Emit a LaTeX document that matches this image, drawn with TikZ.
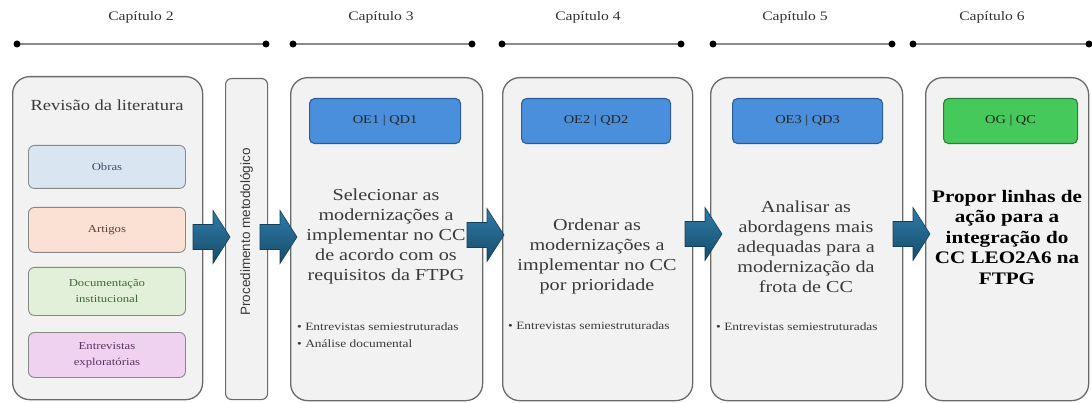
\documentclass[tikz,border=0pt]{standalone}
\usepackage{fontspec}
\setmainfont[FakeStretch=1.2]{Liberation Serif}
\newfontfamily\procfont{Liberation Sans}
\usetikzlibrary{calc}
\definecolor{boxfill}{HTML}{F2F2F2}
\definecolor{boxdraw}{HTML}{6A6A6A}
\definecolor{tline}{HTML}{8A8A8A}
\definecolor{maintxt}{HTML}{3A3A3A}
\definecolor{obrasfill}{HTML}{DAE5F2}
\definecolor{obrastxt}{HTML}{3E5068}
\definecolor{artfill}{HTML}{FBE1D4}
\definecolor{arttxt}{HTML}{5A4034}
\definecolor{docfill}{HTML}{E2F0D9}
\definecolor{doctxt}{HTML}{3E6A38}
\definecolor{entfill}{HTML}{EFD2EF}
\definecolor{enttxt}{HTML}{5C3062}
\definecolor{oefill}{HTML}{4A8FDB}
\definecolor{oedraw}{HTML}{2E5C9A}
\definecolor{ogfill}{HTML}{45C95A}
\definecolor{ogdraw}{HTML}{2E7D3A}
\definecolor{arrtop}{HTML}{2F7CA8}
\definecolor{arrbot}{HTML}{174B6A}
\definecolor{arrdraw}{HTML}{143F59}
\begin{document}
\begin{tikzpicture}[x=1pt,y=-1pt,
  bigbox/.style={draw=boxdraw, line width=1.3pt, fill=boxfill, rounded corners=17pt, anchor=north west, inner sep=0pt},
  procbox/.style={draw=boxdraw, line width=1.1pt, fill=boxfill, rounded corners=6pt, anchor=north west, inner sep=0pt},
  srcbox/.style={draw=boxdraw!80, line width=0.9pt, rounded corners=6pt, anchor=north west, inner sep=0pt, align=center, font=\fontsize{10.6}{16}\selectfont},
  oebox/.style={draw=oedraw, line width=1.1pt, fill=oefill, rounded corners=5pt, anchor=north west, inner sep=0pt, font=\fontsize{12}{13}\selectfont, text=black!85},
  ogbox/.style={draw=ogdraw, line width=1.1pt, fill=ogfill, rounded corners=5pt, anchor=north west, inner sep=0pt, font=\fontsize{12}{13}\selectfont, text=black!85},
  maintext/.style={align=center, inner sep=0pt, text=maintxt, font=\fontsize{16.8}{20}\selectfont},
  boldtext/.style={align=center, inner sep=0pt, text=black, font=\fontsize{17.6}{20.5}\selectfont\bfseries},
  bullets/.style={align=left, inner sep=0pt, anchor=west, text=maintxt, font=\fontsize{11.2}{17}\selectfont},
  chap/.style={inner sep=0pt, text=black!80, font=\fontsize{13}{15}\selectfont},
  tl/.style={draw=tline, line width=2.6pt},
  dot/.style={circle, fill=black, inner sep=0pt, minimum size=7pt},
  blockarrow/.style={top color=arrtop, bottom color=arrbot, draw=arrdraw, line width=0.6pt, line join=miter}
]
\useasboundingbox (0,0) rectangle (1092,403);
\fill[white] (0,0) rectangle (1092,403);

% timeline
\foreach \n/\a/\b/\c in {2/17/266/141, 3/293/472/381, 4/502/681/588, 5/713/892/795, 6/913/1089/992}{
  \coordinate (l\n a) at (\a,44);
  \coordinate (l\n b) at (\b,44);
  \draw[tl] (l\n a) -- (l\n b);
  \node[dot] (d\n a) at (l\n a) {};
  \node[dot] (d\n b) at (l\n b) {};
  \node[chap] (cap\n) at (\c,17) {Capítulo \n};
}

% left literature box
\node[bigbox, minimum width=190pt, minimum height=323pt] (lit) at (12,76) {};
\node[inner sep=0pt, text=maintxt, font=\fontsize{15.4}{18}\selectfont] (littitle) at (107,105) {Revisão da literatura};
\node[srcbox, fill=obrasfill, text=obrastxt, minimum width=157pt, minimum height=43pt] (obras) at (28,145) {Obras};
\node[srcbox, fill=artfill, text=arttxt, minimum width=157pt, minimum height=45pt] (artigos) at (28,207) {Artigos};
\node[srcbox, fill=docfill, text=doctxt, minimum width=157pt, minimum height=48pt] (doc) at (28,267) {Documentação\\institucional};
\node[srcbox, fill=entfill, text=enttxt, minimum width=157pt, minimum height=45pt] (ent) at (28,332) {Entrevistas\\exploratórias};

% procedimento
\node[procbox, minimum width=42pt, minimum height=321pt] (proc) at (225,78) {};
\node[rotate=90, inner sep=0pt, text=maintxt, font=\procfont\fontsize{13.5}{15}\selectfont] (proctxt) at ($(proc.center)+(0,-7)$) {Procedimento metodológico};

% chapter boxes
\node[bigbox, minimum width=192pt, minimum height=323pt] (b3) at (290,77) {};
\node[bigbox, minimum width=190pt, minimum height=323pt] (b4) at (502,77) {};
\node[bigbox, minimum width=192pt, minimum height=323pt] (b5) at (710,77) {};
\node[bigbox, minimum width=163pt, minimum height=323pt] (b6) at (925,77) {};

\node[oebox, minimum width=151pt, minimum height=45pt] (oe1) at (309,98) {OE1 | QD1};
\node[oebox, minimum width=149pt, minimum height=45pt] (oe2) at (521,98) {OE2 | QD2};
\node[oebox, minimum width=150pt, minimum height=45pt] (oe3) at (732,98) {OE3 | QD3};
\node[ogbox, minimum width=134pt, minimum height=45pt] (og) at (943,98) {OG | QC};

\node[maintext] (t3) at (386,236) {Selecionar as\\modernizações a\\implementar no CC\\de acordo com os\\requisitos da FTPG};
\node[maintext] (t4) at (597,256) {Ordenar as\\modernizações a\\implementar no CC\\por prioridade};
\node[maintext] (t5) at (806,247) {Analisar as\\abordagens mais\\adequadas para a\\modernização da\\frota de CC};
\node[boldtext] (t6) at (1007,237) {Propor linhas de\\ação para a\\integração do\\CC LEO2A6 na\\FTPG};

\node[bullets] (m3) at (297,335) {• Entrevistas semiestruturadas\\• Análise documental};
\node[bullets] (m4) at (508,326) {• Entrevistas semiestruturadas};
\node[bullets] (m5) at (716,327) {• Entrevistas semiestruturadas};

% block arrows
\foreach \x/\y/\nm in {193/237/a1, 260/237/a2, 467/235/a3, 685/234/a4, 893/234/a5}{
  \coordinate (\nm) at (\x,\y);
  \path[blockarrow] (\nm) ++(0,-12.5) -- ++(20,0) -- ++(0,-14) -- ++(17,26.5) -- ++(-17,26.5) -- ++(0,-14) -- ++(-20,0) -- cycle;
}
\end{tikzpicture}
\end{document}
